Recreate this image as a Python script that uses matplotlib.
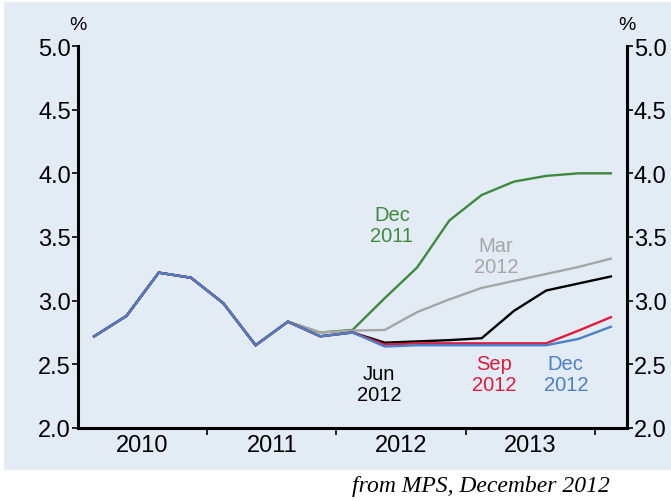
import numpy as np
import matplotlib
matplotlib.use("Agg")
import matplotlib.pyplot as plt
from matplotlib.patches import Rectangle

plt.rcParams['font.family'] = ['Liberation Sans', 'DejaVu Sans']

# quarters Q1 2010 .. Q1 2014, plotted at quarter midpoints
quarters = [2010 + i / 4 + 0.125 for i in range(17)]

# outturns shared by every vintage (Q1 2010 .. Q3 2011)
hist = [2.72, 2.88, 3.22, 3.18, 2.98, 2.65, 2.835]

# projections Q4 2011 .. Q1 2014 for each MPS vintage
dec11 = hist + [2.75, 2.77, 3.02, 3.26, 3.63, 3.83, 3.935, 3.98, 4.00, 4.00]
mar12 = hist + [2.75, 2.765, 2.77, 2.91, 3.01, 3.10, 3.155, 3.21, 3.265, 3.33]
jun12 = hist + [2.72, 2.75, 2.67, 2.68, 2.69, 2.705, 2.92, 3.08, 3.135, 3.19]
sep12 = hist + [2.72, 2.75, 2.655, 2.665, 2.665, 2.665, 2.665, 2.665, 2.765, 2.87]
dec12 = hist + [2.72, 2.75, 2.64, 2.65, 2.65, 2.65, 2.65, 2.65, 2.70, 2.795]

series = [
    ("Dec\n2011", dec11, "#3d8a3d", (2012.43, 3.595)),
    ("Mar\n2012", mar12, "#a6a6a6", (2013.235, 3.35)),
    ("Jun\n2012", jun12, "#000000", (2012.33, 2.345)),
    ("Sep\n2012", sep12, "#e01c3c", (2013.22, 2.424)),
    ("Dec\n2012", dec12, "#4a80c8", (2013.776, 2.424)),
]

years = [2010, 2011, 2012, 2013]
bg = "#e3ebf5"

fig = plt.figure(figsize=(6.71, 5.02), dpi=100, facecolor="white")
panel = Rectangle((4 / 671, 31 / 502), 667 / 671, 468 / 502,
                  transform=fig.transFigure, facecolor=bg, edgecolor="none",
                  zorder=-10)
fig.add_artist(panel)
ax = fig.add_axes([78 / 671, 73 / 502, 549 / 671, 382 / 502])
ax.set_facecolor(bg)
ax.set_zorder(5)

for label, vals, col, pos in series:
    ax.plot(quarters, vals, color=col, lw=1.7, solid_joinstyle="miter")
    ax.text(pos[0], pos[1], label, color=col, fontsize=14.5, ha="center",
            va="center", linespacing=1.1)

ax.set_xlim(2010, 2014.25)
ax.set_ylim(2.0, 5.0)
ax.set_yticks(np.arange(2.0, 5.01, 0.5))
ax.set_yticklabels([f"{v:.1f}" for v in np.arange(2.0, 5.01, 0.5)])
ax.set_xticks([2011, 2012, 2013, 2014])
ax.set_xticklabels([])
ax.set_xticks([y + 0.5 for y in years], minor=True)
ax.set_xticklabels([str(y) for y in years], minor=True)

ax.spines["top"].set_visible(False)
for s in ["left", "right", "bottom"]:
    ax.spines[s].set_linewidth(2.2)
ax.tick_params(axis="y", which="major", left=True, right=True, labelleft=True,
               labelright=True, direction="out", length=4, width=1.2,
               labelsize=17, pad=1)
ax.tick_params(axis="x", which="major", direction="out", length=5, width=1.2)
ax.tick_params(axis="x", which="minor", length=0, labelsize=17, pad=4)

ax.text(0, 1.035, "%", transform=ax.transAxes, ha="center", va="bottom", fontsize=14)
ax.text(1, 1.035, "%", transform=ax.transAxes, ha="center", va="bottom", fontsize=14)

fig.text(610 / 671, 15 / 502, "from MPS, December 2012", ha="right", va="center",
         fontsize=17, style="italic", family=["Liberation Serif", "DejaVu Serif"])

fig.savefig("out.png", dpi=100)
